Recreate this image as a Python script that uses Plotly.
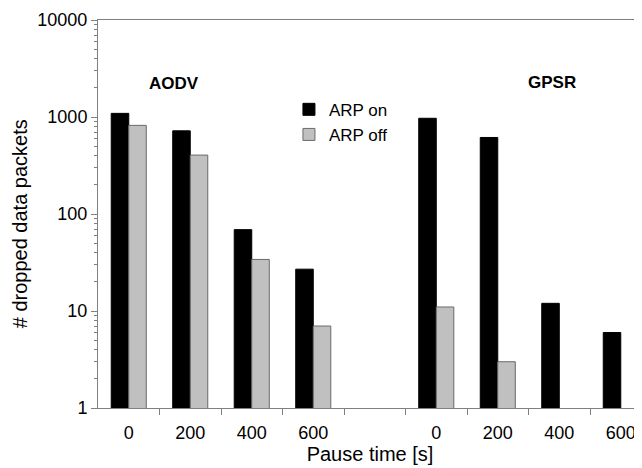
import plotly.graph_objects as go

# Data
slots = [0, 1, 2, 3, 5, 6, 7, 8]
pause_labels = ["0", "200", "400", "600", "0", "200", "400", "600"]
arp_on = [1090, 720, 69, 27, 970, 615, 12, 6]
arp_off = [820, 405, 34, 7, 11, 3, None, None]
y_ticks = [1, 10, 100, 1000, 10000]
y_ticktext = ["1", "10", "100", "1000", "10000"]

minor_y = [m * 10 ** e for e in range(4) for m in range(2, 10)]

font_family = "Liberation Sans, Arial, sans-serif"
axis_col = "#808080"

fig = go.Figure()
fig.add_trace(go.Bar(
    x=slots, y=arp_on, name="ARP on",
    marker=dict(color="#000000", line=dict(color="#000000", width=1)),
))
fig.add_trace(go.Bar(
    x=slots, y=arp_off, name="ARP off",
    marker=dict(color="#c0c0c0", line=dict(color="#6a6a6a", width=1)),
))

fig.update_layout(
    width=634, height=460,
    margin=dict(l=90, r=0, t=12, b=60),
    paper_bgcolor="white", plot_bgcolor="white",
    barmode="group", bargap=0.43, bargroupgap=0,
    font=dict(family=font_family, color="#000000", size=18),
    showlegend=True,
    legend=dict(x=0.351, y=0.815, xanchor="left", yanchor="top",
                font=dict(size=17), bgcolor="rgba(0,0,0,0)",
                tracegroupgap=0),
)

fig.update_xaxes(
    range=[-0.5, 8.345],
    tickmode="array", tickvals=slots, ticktext=pause_labels,
    ticks="outside", ticklen=8, tickcolor="rgba(0,0,0,0)",
    tickfont=dict(size=18),
    showline=True, linecolor=axis_col, linewidth=1, mirror=True,
    showgrid=False, zeroline=False,
    minor=dict(tickmode="array", tickvals=[0.5, 1.5, 2.5, 3.5, 4.5, 5.5, 6.5, 7.5],
               ticks="outside", ticklen=6, tickcolor=axis_col, showgrid=False),
    title=dict(text="Pause time [s]", font=dict(size=20), standoff=4),
)

fig.update_yaxes(
    type="log", range=[0, 4],
    tickmode="array", tickvals=y_ticks, ticktext=y_ticktext,
    ticks="outside", ticklen=6, tickcolor=axis_col,
    tickfont=dict(size=18),
    showline=True, linecolor=axis_col, linewidth=1,
    showgrid=False, zeroline=False,
    minor=dict(tickmode="array", tickvals=minor_y, ticks="outside",
               ticklen=3, tickcolor=axis_col, showgrid=False),
)

fig.add_annotation(x=-0.143, y=0.474, xref="paper", yref="paper",
                   text="# dropped data packets", textangle=-90,
                   xanchor="center", yanchor="middle",
                   showarrow=False, font=dict(size=20))
fig.add_annotation(x=0.736, y=3.35, xref="x", yref="y", text="<b>AODV</b>",
                   showarrow=False, font=dict(size=17))
fig.add_annotation(x=6.877, y=3.36, xref="x", yref="y", text="<b>GPSR</b>",
                   showarrow=False, font=dict(size=17))

fig.write_html("out.html")
